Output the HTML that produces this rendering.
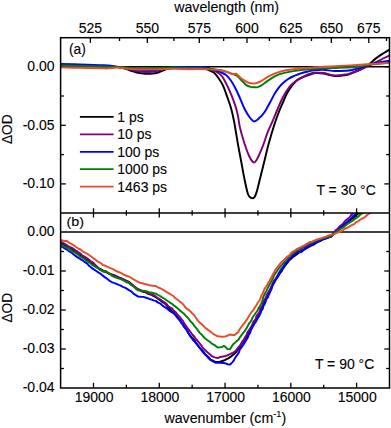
<!DOCTYPE html>
<html><head><meta charset="utf-8"><title>Transient absorption spectra</title>
<style>html,body{margin:0;padding:0;background:#fff}svg{display:block}text{font-family:"Liberation Sans",Arial,Helvetica,sans-serif;fill:#000;stroke:#000;stroke-width:0.1px}</style></head><body>
<svg width="391" height="428" viewBox="0 0 391 428">
<rect width="391" height="428" fill="#fff"/>
<defs><clipPath id="ca"><rect x="60.60" y="37.70" width="328.90" height="175.20"/></clipPath><clipPath id="cb"><rect x="60.60" y="212.90" width="328.90" height="175.10"/></clipPath></defs>
<g stroke="#000" stroke-width="1.40">
<line x1="60.60" y1="66.70" x2="389.50" y2="66.70"/>
<line x1="60.60" y1="232.00" x2="389.50" y2="232.00"/>
</g>
<g stroke="#000" stroke-width="1.30">
<line x1="90.36" y1="37.70" x2="90.36" y2="42.90"/>
<line x1="119.50" y1="37.70" x2="119.50" y2="41.00"/>
<line x1="147.31" y1="37.70" x2="147.31" y2="42.90"/>
<line x1="173.89" y1="37.70" x2="173.89" y2="41.00"/>
<line x1="199.31" y1="37.70" x2="199.31" y2="42.90"/>
<line x1="223.65" y1="37.70" x2="223.65" y2="41.00"/>
<line x1="246.98" y1="37.70" x2="246.98" y2="42.90"/>
<line x1="269.35" y1="37.70" x2="269.35" y2="41.00"/>
<line x1="290.83" y1="37.70" x2="290.83" y2="42.90"/>
<line x1="311.47" y1="37.70" x2="311.47" y2="41.00"/>
<line x1="331.31" y1="37.70" x2="331.31" y2="42.90"/>
<line x1="350.40" y1="37.70" x2="350.40" y2="41.00"/>
<line x1="368.79" y1="37.70" x2="368.79" y2="42.90"/>
<line x1="386.51" y1="37.70" x2="386.51" y2="41.00"/>
<line x1="356.61" y1="208.30" x2="356.61" y2="217.50"/>
<line x1="356.61" y1="388.00" x2="356.61" y2="382.80"/>
<line x1="323.72" y1="210.20" x2="323.72" y2="215.60"/>
<line x1="323.72" y1="388.00" x2="323.72" y2="384.70"/>
<line x1="290.83" y1="208.30" x2="290.83" y2="217.50"/>
<line x1="290.83" y1="388.00" x2="290.83" y2="382.80"/>
<line x1="257.94" y1="210.20" x2="257.94" y2="215.60"/>
<line x1="257.94" y1="388.00" x2="257.94" y2="384.70"/>
<line x1="225.05" y1="208.30" x2="225.05" y2="217.50"/>
<line x1="225.05" y1="388.00" x2="225.05" y2="382.80"/>
<line x1="192.16" y1="210.20" x2="192.16" y2="215.60"/>
<line x1="192.16" y1="388.00" x2="192.16" y2="384.70"/>
<line x1="159.27" y1="208.30" x2="159.27" y2="217.50"/>
<line x1="159.27" y1="388.00" x2="159.27" y2="382.80"/>
<line x1="126.38" y1="210.20" x2="126.38" y2="215.60"/>
<line x1="126.38" y1="388.00" x2="126.38" y2="384.70"/>
<line x1="93.49" y1="208.30" x2="93.49" y2="217.50"/>
<line x1="93.49" y1="388.00" x2="93.49" y2="382.80"/>
<line x1="60.60" y1="66.70" x2="65.80" y2="66.70"/>
<line x1="389.50" y1="66.70" x2="384.30" y2="66.70"/>
<line x1="60.60" y1="96.00" x2="63.90" y2="96.00"/>
<line x1="389.50" y1="96.00" x2="386.20" y2="96.00"/>
<line x1="60.60" y1="125.30" x2="65.80" y2="125.30"/>
<line x1="389.50" y1="125.30" x2="384.30" y2="125.30"/>
<line x1="60.60" y1="154.60" x2="63.90" y2="154.60"/>
<line x1="389.50" y1="154.60" x2="386.20" y2="154.60"/>
<line x1="60.60" y1="183.90" x2="65.80" y2="183.90"/>
<line x1="389.50" y1="183.90" x2="384.30" y2="183.90"/>
<line x1="60.60" y1="251.50" x2="63.90" y2="251.50"/>
<line x1="389.50" y1="251.50" x2="386.20" y2="251.50"/>
<line x1="60.60" y1="271.00" x2="65.80" y2="271.00"/>
<line x1="389.50" y1="271.00" x2="384.30" y2="271.00"/>
<line x1="60.60" y1="290.50" x2="63.90" y2="290.50"/>
<line x1="389.50" y1="290.50" x2="386.20" y2="290.50"/>
<line x1="60.60" y1="310.00" x2="65.80" y2="310.00"/>
<line x1="389.50" y1="310.00" x2="384.30" y2="310.00"/>
<line x1="60.60" y1="329.50" x2="63.90" y2="329.50"/>
<line x1="389.50" y1="329.50" x2="386.20" y2="329.50"/>
<line x1="60.60" y1="349.00" x2="65.80" y2="349.00"/>
<line x1="389.50" y1="349.00" x2="384.30" y2="349.00"/>
<line x1="60.60" y1="368.50" x2="63.90" y2="368.50"/>
<line x1="389.50" y1="368.50" x2="386.20" y2="368.50"/>
</g>
<g clip-path="url(#ca)" fill="none" stroke-width="1.95" stroke-linejoin="round" stroke-linecap="butt">
<path d="M60.60 65.50 C63.83 65.57 73.43 65.75 80.00 65.90 C86.57 66.05 95.33 66.30 100.00 66.40 C104.67 66.50 105.00 66.40 108.00 66.50 C111.00 66.60 115.17 66.67 118.00 67.00 C120.83 67.33 122.67 67.83 125.00 68.50 C127.33 69.17 129.83 70.28 132.00 71.00 C134.17 71.72 135.83 72.35 138.00 72.80 C140.17 73.25 142.67 73.57 145.00 73.70 C147.33 73.83 149.83 73.80 152.00 73.60 C154.17 73.40 156.00 73.10 158.00 72.50 C160.00 71.90 162.00 70.75 164.00 70.00 C166.00 69.25 168.00 68.45 170.00 68.00 C172.00 67.55 172.67 67.43 176.00 67.30 C179.33 67.17 186.00 67.20 190.00 67.20 C194.00 67.20 197.05 66.90 200.00 67.30 C202.95 67.70 205.40 68.72 207.70 69.60 C210.00 70.48 212.02 71.20 213.80 72.60 C215.58 74.00 216.87 75.82 218.40 78.00 C219.93 80.18 221.47 82.37 223.00 85.70 C224.53 89.03 226.27 94.28 227.60 98.00 C228.93 101.72 229.93 104.17 231.00 108.00 C232.07 111.83 232.87 115.12 234.00 121.00 C235.13 126.88 236.62 136.63 237.80 143.30 C238.98 149.97 240.00 155.08 241.10 161.00 C242.20 166.92 243.30 173.43 244.40 178.80 C245.50 184.17 246.77 190.13 247.70 193.20 C248.63 196.27 249.25 196.35 250.00 197.20 C250.75 198.05 251.47 198.30 252.20 198.30 C252.93 198.30 253.67 198.23 254.40 197.20 C255.13 196.17 255.67 195.17 256.60 192.10 C257.53 189.03 258.70 183.98 260.00 178.80 C261.30 173.62 262.93 166.92 264.40 161.00 C265.87 155.08 267.07 149.58 268.80 143.30 C270.53 137.02 273.03 128.73 274.80 123.30 C276.57 117.87 277.98 114.30 279.40 110.70 C280.82 107.10 282.12 104.43 283.30 101.70 C284.48 98.97 285.43 96.43 286.50 94.30 C287.57 92.17 288.40 90.80 289.70 88.90 C291.00 87.00 292.75 84.57 294.30 82.90 C295.85 81.23 297.22 79.98 299.00 78.90 C300.78 77.82 303.08 77.17 305.00 76.40 C306.92 75.63 308.75 74.85 310.50 74.30 C312.25 73.75 313.37 73.23 315.50 73.10 C317.63 72.97 320.07 73.02 323.30 73.50 C326.53 73.98 331.03 75.75 334.90 76.00 C338.77 76.25 343.82 75.42 346.50 75.00 C349.18 74.58 349.05 74.25 351.00 73.50 C352.95 72.75 355.87 71.62 358.20 70.50 C360.53 69.38 363.13 67.88 365.00 66.80 C366.87 65.72 367.47 65.48 369.40 64.00 C371.33 62.52 374.20 59.73 376.60 57.90 C379.00 56.07 381.65 54.40 383.80 53.00 C385.95 51.60 388.55 50.08 389.50 49.50" stroke="#000000"/>
<path d="M60.60 65.80 C63.83 65.85 72.10 65.97 80.00 66.10 C87.90 66.23 101.67 66.45 108.00 66.60 C114.33 66.75 115.17 66.73 118.00 67.00 C120.83 67.27 122.67 67.70 125.00 68.20 C127.33 68.70 129.83 69.48 132.00 70.00 C134.17 70.52 135.83 70.97 138.00 71.30 C140.17 71.63 142.67 71.92 145.00 72.00 C147.33 72.08 149.83 72.00 152.00 71.80 C154.17 71.60 156.00 71.27 158.00 70.80 C160.00 70.33 162.00 69.53 164.00 69.00 C166.00 68.47 168.00 67.93 170.00 67.60 C172.00 67.27 172.67 67.10 176.00 67.00 C179.33 66.90 185.17 66.87 190.00 67.00 C194.83 67.13 200.78 67.12 205.00 67.80 C209.22 68.48 212.55 69.78 215.30 71.10 C218.05 72.42 219.70 73.65 221.50 75.70 C223.30 77.75 224.57 80.45 226.10 83.40 C227.63 86.35 229.17 89.70 230.70 93.40 C232.23 97.10 234.08 101.83 235.30 105.60 C236.52 109.37 237.22 112.30 238.00 116.00 C238.78 119.70 238.93 123.25 240.00 127.80 C241.07 132.35 242.92 138.68 244.40 143.30 C245.88 147.92 247.42 152.35 248.90 155.50 C250.38 158.65 252.02 161.45 253.30 162.20 C254.58 162.95 255.12 162.42 256.60 160.00 C258.08 157.58 260.35 152.33 262.20 147.70 C264.05 143.07 265.97 136.63 267.70 132.20 C269.43 127.77 271.05 124.72 272.60 121.10 C274.15 117.48 275.47 114.10 277.00 110.50 C278.53 106.90 280.22 102.75 281.80 99.50 C283.38 96.25 284.93 93.42 286.50 91.00 C288.07 88.58 289.65 86.67 291.20 85.00 C292.75 83.33 294.27 82.12 295.80 81.00 C297.33 79.88 298.87 79.17 300.40 78.30 C301.93 77.43 303.48 76.52 305.00 75.80 C306.52 75.08 307.92 74.50 309.50 74.00 C311.08 73.50 312.20 72.97 314.50 72.80 C316.80 72.63 319.90 72.57 323.30 73.00 C326.70 73.43 331.03 75.17 334.90 75.40 C338.77 75.63 343.82 74.77 346.50 74.40 C349.18 74.03 349.05 73.85 351.00 73.20 C352.95 72.55 355.87 71.45 358.20 70.50 C360.53 69.55 363.30 68.32 365.00 67.50 C366.70 66.68 366.47 66.52 368.40 65.60 C370.33 64.68 374.17 63.18 376.60 62.00 C379.03 60.82 380.85 59.58 383.00 58.50 C385.15 57.42 388.42 56.00 389.50 55.50" stroke="#800080"/>
<path d="M60.60 64.00 C63.83 64.08 73.43 64.30 80.00 64.50 C86.57 64.70 95.33 65.03 100.00 65.20 C104.67 65.37 105.00 65.20 108.00 65.50 C111.00 65.80 115.17 66.58 118.00 67.00 C120.83 67.42 122.67 67.65 125.00 68.00 C127.33 68.35 129.83 68.78 132.00 69.10 C134.17 69.42 135.83 69.70 138.00 69.90 C140.17 70.10 142.67 70.27 145.00 70.30 C147.33 70.33 149.83 70.23 152.00 70.10 C154.17 69.97 156.00 69.77 158.00 69.50 C160.00 69.23 162.00 68.83 164.00 68.50 C166.00 68.17 168.00 67.75 170.00 67.50 C172.00 67.25 172.67 67.08 176.00 67.00 C179.33 66.92 185.17 66.92 190.00 67.00 C194.83 67.08 201.17 67.08 205.00 67.50 C208.83 67.92 210.50 68.77 213.00 69.50 C215.50 70.23 217.82 70.98 220.00 71.90 C222.18 72.82 224.32 73.60 226.10 75.00 C227.88 76.40 229.17 78.13 230.70 80.30 C232.23 82.47 233.77 85.05 235.30 88.00 C236.83 90.95 238.37 94.55 239.90 98.00 C241.43 101.45 242.97 105.62 244.50 108.70 C246.03 111.78 247.57 114.40 249.10 116.50 C250.63 118.60 252.38 120.72 253.70 121.30 C255.02 121.88 256.08 120.55 257.00 120.00 C257.92 119.45 258.37 118.78 259.20 118.00 C260.03 117.22 260.93 116.57 262.00 115.30 C263.07 114.03 264.20 112.65 265.60 110.40 C267.00 108.15 268.90 104.57 270.40 101.80 C271.90 99.03 273.17 96.22 274.60 93.80 C276.03 91.38 277.50 89.18 279.00 87.30 C280.50 85.42 282.07 83.88 283.60 82.50 C285.13 81.12 286.67 80.00 288.20 79.00 C289.73 78.00 291.27 77.23 292.80 76.50 C294.33 75.77 295.87 75.18 297.40 74.60 C298.93 74.02 300.23 73.52 302.00 73.00 C303.77 72.48 306.00 71.95 308.00 71.50 C310.00 71.05 311.45 70.58 314.00 70.30 C316.55 70.02 319.82 69.68 323.30 69.80 C326.78 69.92 331.03 70.85 334.90 71.00 C338.77 71.15 343.82 70.83 346.50 70.70 C349.18 70.57 349.05 70.58 351.00 70.20 C352.95 69.82 356.50 68.83 358.20 68.40 C359.90 67.97 359.27 68.20 361.20 67.60 C363.13 67.00 368.08 65.40 369.80 64.80 C371.52 64.20 369.52 64.47 371.50 64.00 C373.48 63.53 378.70 62.52 381.70 62.00 C384.70 61.48 388.20 61.08 389.50 60.90" stroke="#0000ff"/>
<path d="M60.60 65.50 C63.83 65.58 73.43 65.83 80.00 66.00 C86.57 66.17 95.33 66.40 100.00 66.50 C104.67 66.60 105.00 66.50 108.00 66.60 C111.00 66.70 115.17 66.95 118.00 67.10 C120.83 67.25 122.17 67.35 125.00 67.50 C127.83 67.65 131.67 67.90 135.00 68.00 C138.33 68.10 141.67 68.10 145.00 68.10 C148.33 68.10 151.67 68.05 155.00 68.00 C158.33 67.95 161.67 67.83 165.00 67.80 C168.33 67.77 170.83 67.77 175.00 67.80 C179.17 67.83 185.00 67.88 190.00 68.00 C195.00 68.12 200.83 68.25 205.00 68.50 C209.17 68.75 211.83 69.08 215.00 69.50 C218.17 69.92 221.38 70.35 224.00 71.00 C226.62 71.65 228.57 72.62 230.70 73.40 C232.83 74.18 235.02 74.55 236.80 75.70 C238.58 76.85 239.87 78.77 241.40 80.30 C242.93 81.83 244.47 83.80 246.00 84.90 C247.53 86.00 249.10 86.50 250.60 86.90 C252.10 87.30 253.88 87.25 255.00 87.30 C256.12 87.35 256.28 87.47 257.30 87.20 C258.32 86.93 259.43 86.72 261.10 85.70 C262.77 84.68 265.25 82.52 267.30 81.10 C269.35 79.68 271.35 78.35 273.40 77.20 C275.45 76.05 277.55 74.97 279.60 74.20 C281.65 73.43 283.40 73.12 285.70 72.60 C288.00 72.08 290.85 71.53 293.40 71.10 C295.95 70.67 298.45 70.30 301.00 70.00 C303.55 69.70 306.37 69.50 308.70 69.30 C311.03 69.10 312.57 68.95 315.00 68.80 C317.43 68.65 319.98 68.53 323.30 68.40 C326.62 68.27 331.03 68.15 334.90 68.00 C338.77 67.85 343.82 67.60 346.50 67.50 C349.18 67.40 349.08 67.55 351.00 67.40 C352.92 67.25 355.63 66.90 358.00 66.60 C360.37 66.30 363.03 65.95 365.20 65.60 C367.37 65.25 369.07 64.77 371.00 64.50 C372.93 64.23 373.72 64.33 376.80 64.00 C379.88 63.67 387.38 62.75 389.50 62.50" stroke="#008000"/>
<path d="M60.60 67.40 C63.83 67.48 73.43 67.75 80.00 67.90 C86.57 68.05 95.33 68.22 100.00 68.30 C104.67 68.38 105.00 68.52 108.00 68.40 C111.00 68.28 115.17 67.60 118.00 67.60 C120.83 67.60 122.17 68.12 125.00 68.40 C127.83 68.68 131.67 69.12 135.00 69.30 C138.33 69.48 141.67 69.48 145.00 69.50 C148.33 69.52 151.67 69.47 155.00 69.40 C158.33 69.33 161.67 69.18 165.00 69.10 C168.33 69.02 170.83 68.88 175.00 68.90 C179.17 68.92 185.83 69.18 190.00 69.20 C194.17 69.22 197.17 68.98 200.00 69.00 C202.83 69.02 204.45 69.17 207.00 69.30 C209.55 69.43 212.38 69.50 215.30 69.80 C218.22 70.10 221.93 70.50 224.50 71.10 C227.07 71.70 229.28 72.88 230.70 73.40 C232.12 73.92 232.12 74.15 233.00 74.20 C233.88 74.25 235.10 73.45 236.00 73.70 C236.90 73.95 237.23 74.72 238.40 75.70 C239.57 76.68 241.47 78.50 243.00 79.60 C244.53 80.70 246.07 81.67 247.60 82.30 C249.13 82.93 250.93 83.22 252.20 83.40 C253.47 83.58 253.72 83.78 255.20 83.40 C256.68 83.02 259.08 82.13 261.10 81.10 C263.12 80.07 265.25 78.35 267.30 77.20 C269.35 76.05 271.35 75.08 273.40 74.20 C275.45 73.32 277.55 72.55 279.60 71.90 C281.65 71.25 283.40 70.73 285.70 70.30 C288.00 69.87 290.85 69.60 293.40 69.30 C295.95 69.00 298.45 68.77 301.00 68.50 C303.55 68.23 306.37 67.90 308.70 67.70 C311.03 67.50 312.57 67.45 315.00 67.30 C317.43 67.15 319.98 66.97 323.30 66.80 C326.62 66.63 331.03 66.50 334.90 66.30 C338.77 66.10 343.82 65.73 346.50 65.60 C349.18 65.47 348.75 65.63 351.00 65.50 C353.25 65.37 356.87 65.05 360.00 64.80 C363.13 64.55 366.47 64.22 369.80 64.00 C373.13 63.78 376.72 63.67 380.00 63.50 C383.28 63.33 387.92 63.08 389.50 63.00" stroke="#e84c2e"/>
</g>
<g clip-path="url(#cb)" fill="none" stroke-width="1.95" stroke-linejoin="round" stroke-linecap="butt">
<path d="M60.60 243.00 L62.79 243.99 L64.98 245.66 L67.00 246.50 L68.97 247.74 L71.63 249.60 L73.74 250.45 L75.90 252.06 L78.00 253.83 L80.18 254.97 L82.95 256.71 L84.90 258.27 L87.04 259.52 L89.11 261.05 L91.33 262.92 L93.80 264.44 L96.00 265.82 L98.11 267.75 L100.48 269.08 L102.80 270.44 L105.22 271.33 L107.41 272.69 L109.63 273.70 L111.70 274.34 L114.00 275.11 L116.40 276.28 L118.66 277.38 L120.70 278.13 L122.90 279.12 L124.85 280.21 L127.19 281.21 L129.00 282.00 L131.14 283.69 L133.50 285.68 L135.60 287.40 L137.90 289.27 L140.46 290.28 L142.06 291.42 L144.82 291.98 L146.90 293.01 L148.95 294.08 L151.60 294.92 L153.84 296.12 L155.80 297.12 L158.31 298.92 L160.58 300.54 L162.49 302.18 L164.80 303.47 L166.77 305.32 L168.48 307.55 L169.85 309.03 L171.62 310.68 L173.70 312.70 L175.20 314.30 L177.16 316.36 L178.14 318.11 L180.00 320.31 L181.36 322.50 L182.59 324.23 L183.90 326.13 L185.40 328.09 L186.98 330.53 L187.80 332.45 L189.07 334.30 L190.70 336.26 L192.58 338.15 L194.64 340.46 L196.05 343.24 L197.90 345.32 L199.47 347.65 L201.76 349.95 L203.42 351.78 L205.10 354.15 L206.84 355.67 L208.85 357.54 L210.40 359.66 L213.03 360.72 L215.80 362.08 L219.40 361.86 L222.33 361.02 L224.80 360.13 L226.51 359.19 L228.30 358.31 L230.47 356.91 L232.20 355.46 L234.14 353.97 L236.50 351.87 L237.91 349.41 L239.80 347.38 L241.00 344.87 L242.30 342.81 L244.17 340.72 L245.83 338.58 L247.00 336.04 L248.41 333.73 L249.36 331.77 L251.06 329.43 L251.79 327.56 L253.30 325.42 L254.15 323.15 L255.60 321.47 L256.66 319.06 L257.95 316.94 L259.10 315.02 L260.14 312.10 L261.45 310.07 L262.33 307.21 L263.25 304.48 L264.60 301.94 L265.29 299.57 L266.98 297.40 L267.33 295.82 L268.40 293.23 L269.76 291.06 L270.70 288.93 L271.69 286.76 L272.89 284.61 L274.30 282.27 L275.57 280.04 L276.80 278.08 L278.59 275.58 L280.05 273.02 L281.77 271.11 L283.00 268.55 L284.80 266.20 L286.26 264.26 L288.00 262.03 L289.32 260.02 L291.63 258.44 L293.00 256.87 L295.19 255.33 L296.94 254.27 L299.00 252.50 L301.90 251.61 L304.17 249.60 L307.00 247.94 L308.88 247.03 L310.70 245.80 L313.32 244.85 L315.00 243.61 L317.99 241.93 L320.14 241.10 L323.00 239.48 L325.57 238.26 L328.05 237.69 L331.00 236.54 L332.44 235.08 L334.70 233.01 L336.10 231.85 L338.00 230.11 L339.66 228.50 L341.78 226.96 L344.22 225.09 L346.23 223.26 L348.00 221.96 L349.95 220.37 L352.01 218.65 L354.26 216.96 L356.05 215.28 L358.50 213.57 L360.62 211.61 L362.42 210.08 L363.94 208.35 L366.25 207.03 L368.00 205.13" stroke="#000000"/>
<path d="M60.60 241.60 L62.85 242.79 L65.01 244.08 L67.00 245.31 L68.99 246.73 L71.42 247.70 L74.00 249.17 L75.90 250.66 L78.05 252.15 L80.47 253.56 L82.42 255.62 L84.90 256.89 L87.20 258.34 L89.05 259.83 L91.44 261.67 L93.80 263.14 L95.66 265.64 L97.40 267.72 L99.79 269.51 L102.80 270.93 L105.01 272.11 L107.48 272.65 L109.43 274.10 L111.70 275.01 L114.50 275.74 L117.35 276.68 L120.00 278.02 L122.09 278.85 L124.76 280.25 L126.67 281.12 L129.00 282.53 L130.92 284.02 L133.54 286.17 L135.71 287.81 L137.90 289.39 L140.14 290.24 L142.16 291.01 L144.66 291.45 L146.90 292.55 L149.43 293.57 L151.27 294.31 L153.58 295.23 L155.80 296.35 L157.76 298.13 L160.49 299.50 L162.50 301.20 L164.80 302.48 L166.65 304.08 L168.16 305.99 L170.05 307.28 L172.25 308.69 L173.70 310.56 L176.13 312.69 L177.74 315.06 L180.00 317.12 L181.40 319.25 L182.94 321.01 L184.17 323.37 L185.40 325.05 L187.28 327.73 L189.15 330.13 L190.70 332.25 L192.46 334.73 L194.47 336.77 L195.84 338.91 L197.90 341.29 L199.67 343.45 L201.35 345.67 L203.15 348.12 L205.10 350.03 L206.87 351.77 L208.36 353.12 L210.36 354.78 L212.20 356.41 L214.74 357.40 L217.60 358.08 L220.34 356.99 L223.00 356.52 L225.95 355.92 L228.30 355.00 L230.55 353.83 L232.44 352.90 L234.60 351.99 L236.67 349.51 L238.19 347.48 L239.89 345.64 L241.29 343.64 L242.21 341.46 L243.96 339.71 L244.90 337.48 L246.64 334.85 L247.44 332.34 L248.98 330.18 L250.50 327.76 L251.86 325.53 L252.80 323.29 L253.74 321.16 L255.47 319.53 L256.09 317.19 L257.22 314.94 L258.60 313.34 L259.84 311.30 L260.19 308.54 L261.59 306.90 L262.65 304.60 L262.98 302.38 L264.26 300.00 L265.89 297.49 L266.76 294.77 L268.31 292.26 L269.67 290.12 L270.70 287.62 L271.83 285.56 L272.84 282.81 L274.03 280.58 L275.74 278.80 L276.80 276.54 L278.14 274.30 L279.81 271.57 L281.19 269.39 L283.00 267.28 L284.61 264.96 L286.40 262.45 L288.00 260.02 L289.76 258.24 L291.19 256.67 L293.00 254.38 L295.07 252.75 L297.30 251.49 L299.00 250.01 L301.24 249.16 L302.82 247.65 L304.94 246.74 L307.00 245.40 L309.90 244.02 L312.49 243.50 L315.00 241.89 L317.75 240.59 L320.64 239.80 L323.00 238.79 L325.34 238.04 L328.51 236.68 L331.00 236.13 L332.44 234.44 L334.05 232.27 L335.60 230.38 L337.77 228.65 L339.56 226.61 L341.58 225.03 L343.30 223.37 L344.80 221.22 L346.72 219.52 L349.09 217.76 L350.83 215.52 L352.50 213.75 L354.11 211.99 L356.17 210.55 L358.39 208.18 L360.31 207.06 L362.00 205.05" stroke="#800080"/>
<path d="M60.60 246.10 L62.97 247.20 L64.56 248.40 L67.00 249.69 L69.35 251.43 L71.45 252.55 L73.35 254.21 L75.90 256.13 L78.05 257.69 L80.60 259.29 L82.57 260.31 L84.90 262.15 L87.30 263.68 L89.34 266.06 L91.60 267.83 L93.80 269.37 L96.27 271.00 L98.31 272.34 L100.58 273.79 L102.80 275.65 L104.75 277.11 L107.44 279.02 L109.24 280.55 L111.70 282.04 L113.72 282.80 L115.90 283.56 L118.76 284.82 L120.70 285.61 L122.79 286.80 L124.96 287.71 L126.62 288.61 L129.00 290.11 L131.57 291.53 L133.13 293.33 L135.35 294.82 L137.90 296.43 L140.80 296.74 L143.30 296.86 L146.90 297.97 L149.25 298.94 L151.14 299.34 L153.46 300.38 L155.80 300.85 L158.17 302.65 L160.55 303.69 L162.80 305.86 L164.80 307.15 L166.74 308.37 L168.98 310.39 L171.28 312.01 L173.70 313.29 L175.39 314.93 L176.70 317.07 L178.41 318.76 L180.00 320.64 L181.30 322.88 L182.99 324.27 L183.82 326.75 L185.40 328.65 L187.07 330.31 L188.22 332.48 L189.45 334.58 L190.70 336.71 L192.48 339.26 L194.30 341.38 L196.32 343.27 L197.90 345.49 L199.57 347.63 L201.55 350.11 L202.95 352.14 L205.10 354.59 L206.89 356.10 L208.86 358.53 L210.40 359.89 L212.98 361.44 L215.80 362.78 L218.13 362.88 L220.36 362.76 L223.00 363.04 L225.49 363.28 L227.62 364.25 L230.10 364.45 L232.30 362.36 L234.04 360.22 L235.06 357.76 L236.50 355.90 L237.89 354.10 L239.02 351.93 L239.95 349.28 L241.50 347.48 L242.49 345.81 L244.33 343.28 L245.36 341.47 L246.50 339.56 L247.86 337.38 L248.72 334.97 L250.24 332.64 L250.94 329.83 L252.30 327.40 L253.39 325.21 L254.70 323.20 L256.11 321.31 L256.90 319.49 L258.40 317.18 L259.55 315.17 L260.55 313.11 L261.21 310.89 L262.84 308.65 L263.39 305.88 L264.60 304.12 L265.67 301.57 L266.41 299.25 L267.92 297.21 L268.67 294.93 L269.63 293.24 L270.70 290.59 L271.76 288.60 L272.53 285.57 L273.94 283.09 L275.00 280.89 L276.39 278.45 L277.93 276.11 L278.98 273.27 L280.40 270.97 L281.72 268.83 L283.29 266.99 L284.17 265.09 L285.70 263.20 L287.54 261.51 L289.49 259.87 L291.10 257.75 L292.64 256.37 L294.77 254.16 L296.50 252.76 L299.46 251.77 L301.90 250.65 L304.87 248.76 L307.20 247.07 L309.55 245.93 L312.24 244.41 L314.40 243.43 L316.44 242.39 L319.27 241.13 L321.50 239.86 L324.16 239.09 L326.51 238.31 L328.70 237.33 L331.00 236.78 L332.76 234.75 L333.96 233.24 L335.60 231.71 L338.06 230.18 L339.63 228.33 L341.83 226.22 L343.98 224.51 L346.30 222.64 L348.46 220.62 L350.48 219.10 L351.96 217.25 L354.13 215.32 L356.30 213.77 L358.12 212.00 L360.12 210.12 L362.46 208.22 L364.31 206.93 L366.00 204.89" stroke="#0000ff"/>
<path d="M60.60 244.30 L62.70 245.84 L65.03 246.85 L67.00 247.82 L69.30 248.95 L71.37 250.34 L73.94 252.22 L75.90 253.19 L77.96 254.56 L80.07 256.63 L82.38 257.76 L84.90 259.40 L86.90 261.09 L89.51 262.59 L91.52 264.38 L93.80 265.88 L96.28 267.28 L98.21 268.47 L100.86 270.13 L102.80 271.53 L106.30 271.19 L107.95 272.49 L110.24 273.93 L111.70 275.71 L113.97 276.78 L116.06 277.55 L118.20 278.29 L120.70 279.18 L123.19 280.26 L125.95 281.96 L129.00 282.99 L130.94 284.84 L133.80 286.49 L135.72 288.64 L137.90 290.18 L140.00 290.60 L142.47 290.83 L144.87 291.08 L146.90 291.48 L148.82 292.20 L151.03 292.51 L153.84 293.18 L155.80 293.61 L158.14 295.00 L160.22 296.11 L162.65 297.70 L164.80 298.97 L166.91 300.56 L169.37 302.19 L171.60 303.60 L173.70 305.40 L176.14 307.13 L178.19 308.77 L180.00 310.61 L182.02 312.18 L183.68 313.52 L185.71 315.68 L187.20 317.05 L188.85 318.99 L190.43 321.29 L192.50 323.17 L194.39 325.93 L196.05 327.80 L197.90 330.34 L199.55 332.68 L201.67 334.61 L203.13 336.35 L205.10 338.51 L207.53 340.23 L210.04 341.98 L212.20 343.88 L215.09 345.40 L217.60 347.51 L219.88 347.28 L222.10 347.00 L223.90 345.72 L225.64 347.06 L227.40 349.07 L230.10 349.15 L231.72 346.37 L233.40 343.95 L235.00 342.65 L237.29 340.56 L238.71 339.48 L240.04 337.09 L241.90 334.57 L243.45 332.70 L245.15 330.35 L246.69 327.98 L248.00 325.43 L249.19 323.26 L250.69 321.57 L251.78 319.50 L252.75 317.24 L254.20 315.25 L255.66 313.01 L257.44 310.76 L258.28 308.61 L260.00 305.94 L261.01 303.86 L262.06 301.42 L262.82 299.32 L263.36 296.82 L264.59 294.58 L265.27 292.71 L266.73 290.47 L267.94 287.48 L269.22 284.96 L270.82 282.39 L271.73 280.45 L273.05 278.17 L273.91 275.89 L275.00 273.85 L276.47 271.93 L277.63 269.92 L279.17 268.08 L280.40 266.44 L282.15 264.66 L283.95 262.28 L285.70 260.09 L287.57 258.34 L288.98 256.07 L291.00 254.67 L293.17 253.07 L294.89 251.76 L296.50 250.27 L299.31 249.02 L301.90 247.32 L304.39 245.75 L307.20 244.29 L309.64 243.31 L311.20 242.67 L313.65 241.31 L315.74 240.75 L318.00 239.67 L320.60 238.87 L322.89 238.42 L325.00 237.44 L327.79 237.07 L331.00 236.34 L332.83 234.95 L334.87 232.72 L337.10 231.20 L339.46 229.68 L341.67 228.25 L344.19 226.74 L346.30 224.84 L348.25 223.39 L350.35 222.21 L352.24 221.03 L354.00 219.63 L356.10 217.96 L357.95 216.99 L359.59 215.32 L361.70 213.59 L363.83 212.12 L365.80 210.78 L367.59 209.11 L369.68 207.22 L372.00 205.95" stroke="#008000"/>
<path d="M60.60 239.80 L62.53 240.46 L64.86 240.98 L67.00 241.07 L68.99 242.66 L71.40 243.84 L73.79 245.34 L75.90 246.98 L77.99 248.27 L80.55 249.50 L82.55 251.33 L84.90 252.49 L87.31 253.82 L89.40 255.32 L91.83 256.99 L93.80 258.67 L95.77 259.90 L98.10 261.72 L100.87 263.14 L102.80 265.02 L104.69 265.46 L107.56 266.79 L109.61 267.87 L111.70 268.57 L113.94 269.61 L115.93 271.00 L118.60 272.00 L120.70 272.90 L123.23 274.39 L126.42 275.73 L129.00 276.59 L131.56 278.01 L133.24 279.21 L135.96 280.78 L137.90 281.90 L140.07 282.76 L142.38 283.28 L144.70 284.04 L146.90 284.43 L149.61 285.22 L153.01 285.81 L155.80 286.00 L157.89 287.38 L159.99 288.23 L162.81 289.68 L164.80 290.88 L167.29 292.39 L169.40 293.55 L171.66 295.04 L173.70 296.29 L175.73 298.47 L177.64 299.77 L180.00 301.73 L182.11 303.33 L183.84 305.14 L185.38 307.39 L187.20 308.87 L189.28 310.34 L190.95 312.04 L192.21 313.39 L194.30 315.16 L195.89 317.80 L197.90 320.64 L199.74 322.43 L201.44 324.02 L203.34 325.76 L205.10 327.67 L207.79 329.61 L209.90 331.18 L212.20 332.99 L214.92 334.93 L217.60 336.33 L219.73 336.48 L222.06 336.83 L224.80 336.61 L227.75 335.54 L230.10 334.46 L232.24 334.93 L234.60 334.91 L236.26 333.62 L238.30 332.09 L239.36 329.74 L241.00 327.36 L242.78 325.22 L244.22 323.48 L245.56 321.40 L247.10 319.41 L248.48 316.89 L249.90 314.55 L251.59 312.06 L253.30 310.14 L254.73 307.59 L256.38 305.35 L257.62 303.02 L259.10 300.97 L260.48 298.59 L261.28 295.64 L262.67 293.30 L263.71 290.88 L264.60 288.60 L266.03 286.75 L267.31 284.77 L268.38 282.41 L269.69 280.73 L270.70 278.38 L271.97 276.61 L272.81 274.31 L274.23 272.28 L275.00 270.22 L276.55 268.29 L278.77 265.46 L280.40 263.36 L282.03 261.50 L284.11 260.01 L285.70 258.27 L287.45 256.51 L289.58 255.00 L291.10 253.04 L292.85 251.59 L294.79 250.48 L296.50 249.25 L299.22 247.98 L301.90 246.51 L304.49 245.38 L307.20 243.53 L309.26 242.25 L312.27 241.73 L314.40 240.65 L316.44 239.63 L318.83 239.03 L321.50 238.18 L323.66 237.43 L326.54 236.36 L328.70 235.40 L331.41 234.62 L334.10 234.12 L337.30 232.68 L340.20 231.73 L342.17 230.55 L344.60 228.83 L346.91 227.97 L349.40 226.56 L351.95 225.02 L354.17 224.08 L355.99 222.24 L358.60 221.09 L360.43 219.40 L363.15 218.18 L365.37 216.72 L367.25 214.99 L369.40 213.54 L371.70 211.84 L373.95 210.29 L376.11 209.04 L377.96 207.73 L380.00 206.00" stroke="#e84c2e"/>
</g>
<g stroke="#000" stroke-width="1.50" fill="none" stroke-linecap="butt">
<rect x="60.60" y="37.70" width="328.90" height="350.30"/>
<line x1="60.60" y1="212.90" x2="389.50" y2="212.90"/>
</g>
<text transform="translate(90.36,32.55) scale(1,1.030)" font-size="14.00" text-anchor="middle">525</text>
<text transform="translate(147.31,32.55) scale(1,1.030)" font-size="14.00" text-anchor="middle">550</text>
<text transform="translate(199.31,32.55) scale(1,1.030)" font-size="14.00" text-anchor="middle">575</text>
<text transform="translate(246.98,32.55) scale(1,1.030)" font-size="14.00" text-anchor="middle">600</text>
<text transform="translate(290.83,32.55) scale(1,1.030)" font-size="14.00" text-anchor="middle">625</text>
<text transform="translate(331.31,32.55) scale(1,1.030)" font-size="14.00" text-anchor="middle">650</text>
<text transform="translate(368.79,32.55) scale(1,1.030)" font-size="14.00" text-anchor="middle">675</text>
<text transform="translate(94.09,402.20) scale(1,1.030)" font-size="14.00" text-anchor="middle">19000</text>
<text transform="translate(159.87,402.20) scale(1,1.030)" font-size="14.00" text-anchor="middle">18000</text>
<text transform="translate(225.65,402.20) scale(1,1.030)" font-size="14.00" text-anchor="middle">17000</text>
<text transform="translate(291.43,402.20) scale(1,1.030)" font-size="14.00" text-anchor="middle">16000</text>
<text transform="translate(357.21,402.20) scale(1,1.030)" font-size="14.00" text-anchor="middle">15000</text>
<text transform="translate(54.60,70.95) scale(1,1.030)" font-size="14.00" text-anchor="end">0.00</text>
<text transform="translate(54.60,129.55) scale(1,1.030)" font-size="14.00" text-anchor="end">-0.05</text>
<text transform="translate(54.60,188.15) scale(1,1.030)" font-size="14.00" text-anchor="end">-0.10</text>
<text transform="translate(54.60,235.80) scale(1,1.030)" font-size="14.00" text-anchor="end">0.00</text>
<text transform="translate(54.60,274.80) scale(1,1.030)" font-size="14.00" text-anchor="end">-0.01</text>
<text transform="translate(54.60,313.80) scale(1,1.030)" font-size="14.00" text-anchor="end">-0.02</text>
<text transform="translate(54.60,352.80) scale(1,1.030)" font-size="14.00" text-anchor="end">-0.03</text>
<text transform="translate(54.60,391.80) scale(1,1.030)" font-size="14.00" text-anchor="end">-0.04</text>
<text transform="translate(226.60,12.20) scale(1,1.030)" font-size="14.20" text-anchor="middle">wavelength (nm)</text>
<text transform="translate(225.30,423.40) scale(1,1.030)" font-size="14.20" text-anchor="middle">wavenumber (cm<tspan font-size="9.2" dy="-6.6">-1</tspan><tspan dy="6.6">)</tspan></text>
<text transform="translate(11.90,129.20) rotate(-90) scale(0.970,1)" font-size="14.20" text-anchor="middle">ΔOD</text>
<text transform="translate(11.90,307.70) rotate(-90) scale(0.970,1)" font-size="14.20" text-anchor="middle">ΔOD</text>
<text transform="translate(69.00,53.60) scale(1,1.030)" font-size="13.80" text-anchor="start">(a)</text>
<text transform="translate(66.5,226.4) scale(1,0.87)" font-size="14.3">(b)</text>
<text transform="translate(316.40,194.60) scale(1,1.030)" font-size="14.00" text-anchor="start">T = 30 °C</text>
<text transform="translate(314.90,369.40) scale(1,1.030)" font-size="14.00" text-anchor="start">T = 90 °C</text>
<g stroke-width="1.70">
<line x1="79.9" y1="116.90" x2="113.6" y2="116.90" stroke="#000000"/>
<line x1="79.9" y1="134.30" x2="113.6" y2="134.30" stroke="#800080"/>
<line x1="79.9" y1="151.80" x2="113.6" y2="151.80" stroke="#0000ff"/>
<line x1="79.9" y1="169.20" x2="113.6" y2="169.20" stroke="#008000"/>
<line x1="79.9" y1="186.70" x2="113.6" y2="186.70" stroke="#e84c2e"/>
</g>
<text transform="translate(117.30,121.90) scale(1,1.030)" font-size="14.00" text-anchor="start">1 ps</text>
<text transform="translate(117.30,139.30) scale(1,1.030)" font-size="14.00" text-anchor="start">10 ps</text>
<text transform="translate(117.30,156.80) scale(1,1.030)" font-size="14.00" text-anchor="start">100 ps</text>
<text transform="translate(117.30,174.20) scale(1,1.030)" font-size="14.00" text-anchor="start">1000 ps</text>
<text transform="translate(117.30,191.70) scale(1,1.030)" font-size="14.00" text-anchor="start">1463 ps</text>
</svg></body></html>
